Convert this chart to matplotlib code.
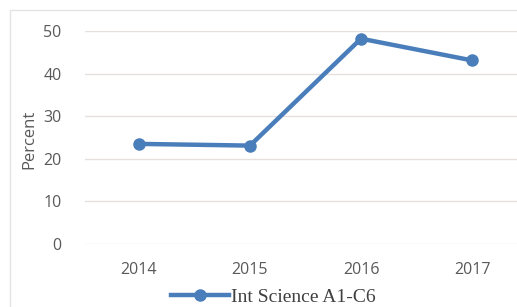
import matplotlib
matplotlib.use("Agg")
import matplotlib.pyplot as plt
from matplotlib.lines import Line2D
from matplotlib.patches import Rectangle

# data
years = ["2014", "2015", "2016", "2017"]
percent = [23.5, 23.1, 48.2, 43.1]
series_name = "Int Science A1-C6"

W, H = 517, 307
line_color = "#4a7ebb"
text_color = "#595959"

fig = plt.figure(figsize=(W / 100, H / 100), dpi=100)
fig.patch.set_facecolor("white")

# faint outer frame of the chart area
fig.patches.append(Rectangle((10 / W, -0.1), 1.1, (H - 10) / H + 0.1,
                             transform=fig.transFigure, fill=False,
                             edgecolor="#e4e4e4", linewidth=1.0))

left, right = 85, 517
bottom, top = 244, 31
ax = fig.add_axes([left / W, (H - bottom) / H, (right - left) / W, (bottom - top) / H])

x = list(range(len(years)))
ax.plot(x, percent, color=line_color, linewidth=3.2, marker="o",
        markersize=8, clip_on=False, zorder=3)

ax.set_xlim(-0.486, 3.405)
ax.set_ylim(0, 50)
ax.set_yticks([0, 10, 20, 30, 40, 50])
ax.set_xticks(x)
ax.set_xticklabels(years)

ax.grid(axis="y", color="#e6e0dc", linewidth=1.0)
ax.set_axisbelow(True)
for s in ax.spines.values():
    s.set_visible(False)
ax.tick_params(axis="both", length=0, colors=text_color, labelsize=11.5)
ax.tick_params(axis="y", pad=17)
ax.tick_params(axis="x", pad=13)
for lbl in ax.get_xticklabels() + ax.get_yticklabels():
    lbl.set_fontfamily("Open Sans")

ax.set_ylabel("Percent", fontsize=12, color=text_color, family="Open Sans")
ax.yaxis.set_label_coords(-0.111, 0.493)

handle = Line2D([0], [0], color=line_color, linewidth=3.2, marker="o", markersize=8)
fig.legend([handle], [series_name], loc="center left",
           bbox_to_anchor=(171 / W, (H - 297) / H), frameon=False,
           prop={"family": "Liberation Serif", "size": 14},
           handlelength=3.0, handletextpad=0.1, labelcolor="#404040",
           borderaxespad=0, borderpad=0)

fig.savefig("out.png", dpi=100)
